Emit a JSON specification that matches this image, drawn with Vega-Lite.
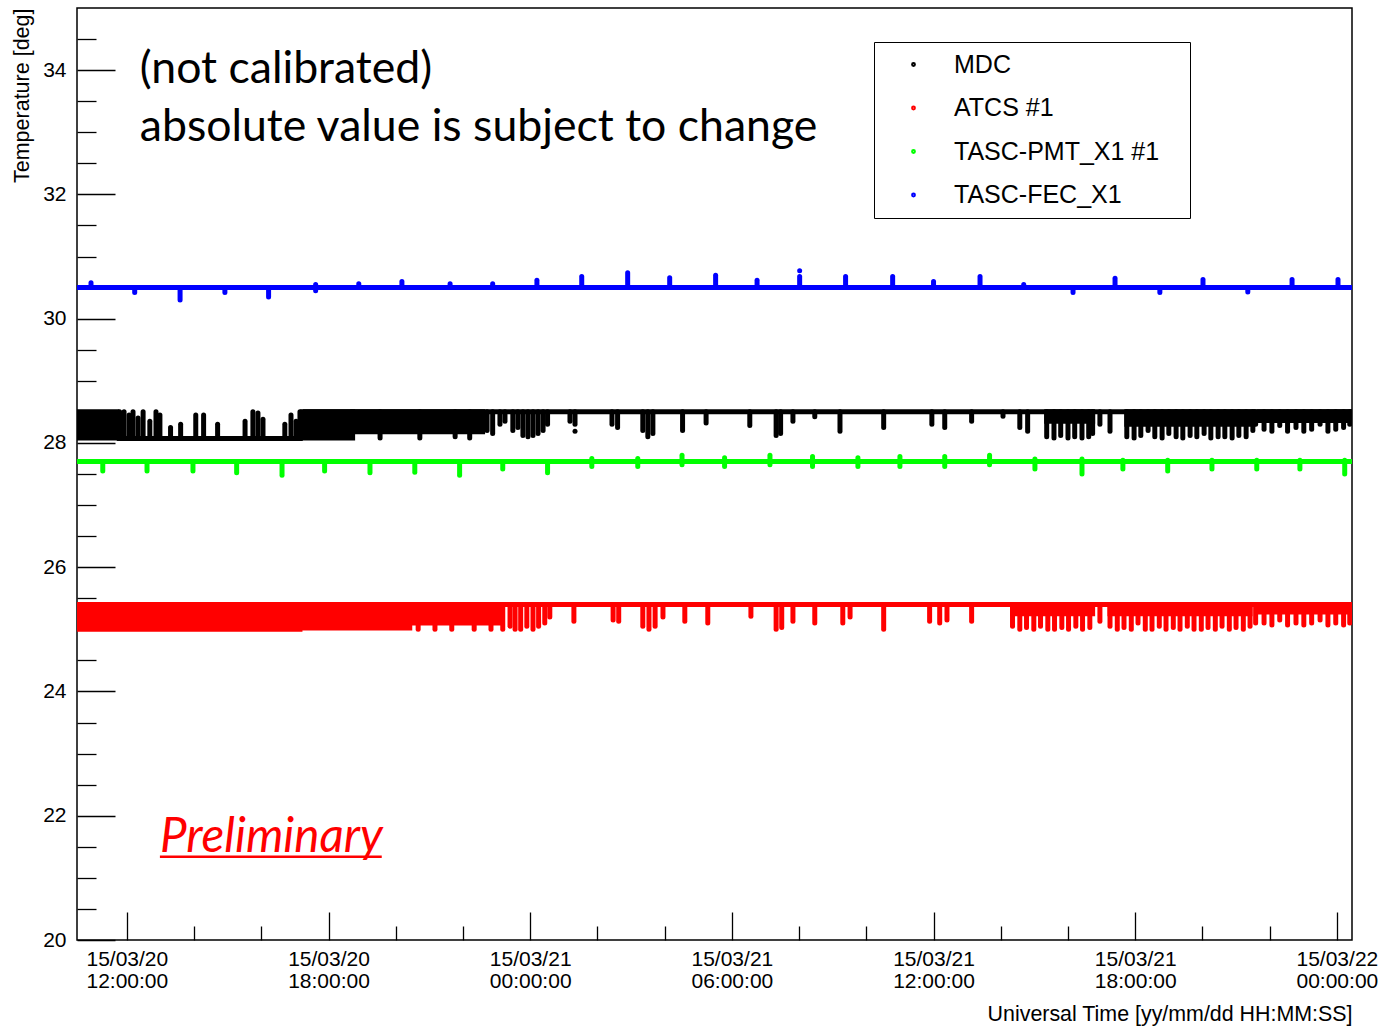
{
  "$schema": "https://vega.github.io/schema/vega-lite/v6.json",
  "width": 1275,
  "height": 932,
  "autosize": {"type": "none"},
  "padding": {"left": 77, "top": 8, "right": 31, "bottom": 87},
  "background": "white",
  "config": {
    "view": {"stroke": "black", "strokeWidth": 1.5},
    "font": "Liberation Sans",
    "axis": {"grid": false, "domain": false, "tickColor": "black", "tickWidth": 1.3, "labelColor": "black", "titleColor": "black", "labelFont": "Liberation Sans", "titleFont": "Liberation Sans", "titleFontWeight": "normal"}
  },
  "datasets": {
    "bands": [
      {"s": "MDC", "t": "2015-03-20T10:31Z", "t2": "2015-03-20T11:42Z", "lo": 28.08, "hi": 28.5},
      {"s": "MDC", "t": "2015-03-20T17:14Z", "t2": "2015-03-20T18:43Z", "lo": 28.08, "hi": 28.5},
      {"s": "MDC", "t": "2015-03-20T18:43Z", "t2": "2015-03-20T22:35Z", "lo": 28.18, "hi": 28.5},
      {"s": "MDC", "t": "2015-03-21T15:22Z", "t2": "2015-03-21T16:44Z", "lo": 28.35, "hi": 28.5},
      {"s": "MDC", "t": "2015-03-21T17:45Z", "t2": "2015-03-21T21:30Z", "lo": 28.3, "hi": 28.5},
      {"s": "MDC", "t": "2015-03-21T21:42Z", "t2": "2015-03-22T00:27Z", "lo": 28.36, "hi": 28.5},
      {"s": "ATCS #1", "t": "2015-03-20T10:31Z", "t2": "2015-03-20T17:09Z", "lo": 25.0, "hi": 25.4},
      {"s": "ATCS #1", "t": "2015-03-20T17:09Z", "t2": "2015-03-20T20:25Z", "lo": 25.02, "hi": 25.4},
      {"s": "ATCS #1", "t": "2015-03-20T20:25Z", "t2": "2015-03-20T23:06Z", "lo": 25.1, "hi": 25.4},
      {"s": "ATCS #1", "t": "2015-03-21T14:21Z", "t2": "2015-03-21T16:44Z", "lo": 25.25, "hi": 25.4},
      {"s": "ATCS #1", "t": "2015-03-21T17:15Z", "t2": "2015-03-21T21:25Z", "lo": 25.25, "hi": 25.4},
      {"s": "ATCS #1", "t": "2015-03-21T21:42Z", "t2": "2015-03-22T00:27Z", "lo": 25.28, "hi": 25.4}
    ],
    "levels": [
      {"s": "MDC", "t": "2015-03-20T11:42Z", "t2": "2015-03-20T17:14Z", "v": 28.07},
      {"s": "MDC", "t": "2015-03-20T17:14Z", "t2": "2015-03-22T00:27Z", "v": 28.5},
      {"s": "ATCS #1", "t": "2015-03-20T10:31Z", "t2": "2015-03-22T00:27Z", "v": 25.4},
      {"s": "TASC-PMT_X1 #1", "t": "2015-03-20T10:31Z", "t2": "2015-03-22T00:27Z", "v": 27.7},
      {"s": "TASC-FEC_X1", "t": "2015-03-20T10:31Z", "t2": "2015-03-22T00:27Z", "v": 30.5}
    ],
    "spikes": [
      {"s": "MDC", "t": "2015-03-20T11:47Z", "lo": 28.07, "hi": 28.5},
      {"s": "MDC", "t": "2015-03-20T11:55Z", "lo": 28.07, "hi": 28.5},
      {"s": "MDC", "t": "2015-03-20T12:04Z", "lo": 28.07, "hi": 28.45},
      {"s": "MDC", "t": "2015-03-20T12:11Z", "lo": 28.07, "hi": 28.5},
      {"s": "MDC", "t": "2015-03-20T12:20Z", "lo": 28.07, "hi": 28.4},
      {"s": "MDC", "t": "2015-03-20T12:29Z", "lo": 28.07, "hi": 28.5},
      {"s": "MDC", "t": "2015-03-20T12:41Z", "lo": 28.07, "hi": 28.35},
      {"s": "MDC", "t": "2015-03-20T12:52Z", "lo": 28.07, "hi": 28.5},
      {"s": "MDC", "t": "2015-03-20T12:59Z", "lo": 28.07, "hi": 28.45},
      {"s": "MDC", "t": "2015-03-20T13:18Z", "lo": 28.07, "hi": 28.25},
      {"s": "MDC", "t": "2015-03-20T13:36Z", "lo": 28.07, "hi": 28.3},
      {"s": "MDC", "t": "2015-03-20T14:03Z", "lo": 28.07, "hi": 28.45},
      {"s": "MDC", "t": "2015-03-20T14:17Z", "lo": 28.07, "hi": 28.45},
      {"s": "MDC", "t": "2015-03-20T14:42Z", "lo": 28.07, "hi": 28.3},
      {"s": "MDC", "t": "2015-03-20T15:31Z", "lo": 28.07, "hi": 28.35},
      {"s": "MDC", "t": "2015-03-20T15:45Z", "lo": 28.07, "hi": 28.5},
      {"s": "MDC", "t": "2015-03-20T15:54Z", "lo": 28.07, "hi": 28.48},
      {"s": "MDC", "t": "2015-03-20T16:03Z", "lo": 28.07, "hi": 28.38},
      {"s": "MDC", "t": "2015-03-20T16:42Z", "lo": 28.07, "hi": 28.3},
      {"s": "MDC", "t": "2015-03-20T16:53Z", "lo": 28.07, "hi": 28.45},
      {"s": "MDC", "t": "2015-03-20T17:02Z", "lo": 28.07, "hi": 28.35},
      {"s": "MDC", "t": "2015-03-20T17:09Z", "lo": 28.07, "hi": 28.5},
      {"s": "MDC", "t": "2015-03-20T19:32Z", "lo": 28.08, "hi": 28.5},
      {"s": "MDC", "t": "2015-03-20T20:43Z", "lo": 28.08, "hi": 28.5},
      {"s": "MDC", "t": "2015-03-20T21:46Z", "lo": 28.1, "hi": 28.5},
      {"s": "MDC", "t": "2015-03-20T22:12Z", "lo": 28.08, "hi": 28.5},
      {"s": "MDC", "t": "2015-03-20T22:43Z", "lo": 28.2, "hi": 28.5},
      {"s": "MDC", "t": "2015-03-20T22:53Z", "lo": 28.15, "hi": 28.5},
      {"s": "MDC", "t": "2015-03-20T23:06Z", "lo": 28.3, "hi": 28.5},
      {"s": "MDC", "t": "2015-03-20T23:15Z", "lo": 28.35, "hi": 28.5},
      {"s": "MDC", "t": "2015-03-20T23:29Z", "lo": 28.2, "hi": 28.5},
      {"s": "MDC", "t": "2015-03-20T23:38Z", "lo": 28.25, "hi": 28.5},
      {"s": "MDC", "t": "2015-03-20T23:47Z", "lo": 28.12, "hi": 28.5},
      {"s": "MDC", "t": "2015-03-20T23:56Z", "lo": 28.1, "hi": 28.5},
      {"s": "MDC", "t": "2015-03-21T00:05Z", "lo": 28.12, "hi": 28.5},
      {"s": "MDC", "t": "2015-03-21T00:14Z", "lo": 28.15, "hi": 28.5},
      {"s": "MDC", "t": "2015-03-21T00:23Z", "lo": 28.2, "hi": 28.5},
      {"s": "MDC", "t": "2015-03-21T00:31Z", "lo": 28.3, "hi": 28.5},
      {"s": "MDC", "t": "2015-03-21T01:11Z", "lo": 28.35, "hi": 28.5},
      {"s": "MDC", "t": "2015-03-21T01:20Z", "lo": 28.3, "hi": 28.5},
      {"s": "MDC", "t": "2015-03-21T01:20Z", "lo": 28.19, "hi": 28.19},
      {"s": "MDC", "t": "2015-03-21T02:26Z", "lo": 28.3, "hi": 28.5},
      {"s": "MDC", "t": "2015-03-21T02:36Z", "lo": 28.25, "hi": 28.5},
      {"s": "MDC", "t": "2015-03-21T03:21Z", "lo": 28.2, "hi": 28.5},
      {"s": "MDC", "t": "2015-03-21T03:30Z", "lo": 28.1, "hi": 28.5},
      {"s": "MDC", "t": "2015-03-21T03:39Z", "lo": 28.15, "hi": 28.5},
      {"s": "MDC", "t": "2015-03-21T04:32Z", "lo": 28.2, "hi": 28.5},
      {"s": "MDC", "t": "2015-03-21T05:14Z", "lo": 28.32, "hi": 28.5},
      {"s": "MDC", "t": "2015-03-21T06:32Z", "lo": 28.28, "hi": 28.5},
      {"s": "MDC", "t": "2015-03-21T07:19Z", "lo": 28.12, "hi": 28.5},
      {"s": "MDC", "t": "2015-03-21T07:27Z", "lo": 28.15, "hi": 28.5},
      {"s": "MDC", "t": "2015-03-21T07:49Z", "lo": 28.35, "hi": 28.5},
      {"s": "MDC", "t": "2015-03-21T08:28Z", "lo": 28.42, "hi": 28.5},
      {"s": "MDC", "t": "2015-03-21T09:13Z", "lo": 28.19, "hi": 28.5},
      {"s": "MDC", "t": "2015-03-21T10:31Z", "lo": 28.25, "hi": 28.5},
      {"s": "MDC", "t": "2015-03-21T11:57Z", "lo": 28.3, "hi": 28.5},
      {"s": "MDC", "t": "2015-03-21T12:20Z", "lo": 28.25, "hi": 28.5},
      {"s": "MDC", "t": "2015-03-21T13:08Z", "lo": 28.35, "hi": 28.5},
      {"s": "MDC", "t": "2015-03-21T14:04Z", "lo": 28.43, "hi": 28.5},
      {"s": "MDC", "t": "2015-03-21T14:34Z", "lo": 28.25, "hi": 28.5},
      {"s": "MDC", "t": "2015-03-21T14:48Z", "lo": 28.19, "hi": 28.5},
      {"s": "MDC", "t": "2015-03-21T15:22Z", "lo": 28.1, "hi": 28.5},
      {"s": "MDC", "t": "2015-03-21T15:35Z", "lo": 28.08, "hi": 28.5},
      {"s": "MDC", "t": "2015-03-21T15:47Z", "lo": 28.12, "hi": 28.5},
      {"s": "MDC", "t": "2015-03-21T16:00Z", "lo": 28.08, "hi": 28.5},
      {"s": "MDC", "t": "2015-03-21T16:12Z", "lo": 28.1, "hi": 28.5},
      {"s": "MDC", "t": "2015-03-21T16:25Z", "lo": 28.08, "hi": 28.5},
      {"s": "MDC", "t": "2015-03-21T16:37Z", "lo": 28.1, "hi": 28.5},
      {"s": "MDC", "t": "2015-03-21T16:44Z", "lo": 28.15, "hi": 28.5},
      {"s": "MDC", "t": "2015-03-21T16:57Z", "lo": 28.3, "hi": 28.5},
      {"s": "MDC", "t": "2015-03-21T17:15Z", "lo": 28.19, "hi": 28.5},
      {"s": "MDC", "t": "2015-03-21T17:45Z", "lo": 28.1, "hi": 28.5},
      {"s": "MDC", "t": "2015-03-21T17:58Z", "lo": 28.08, "hi": 28.5},
      {"s": "MDC", "t": "2015-03-21T18:10Z", "lo": 28.12, "hi": 28.5},
      {"s": "MDC", "t": "2015-03-21T18:23Z", "lo": 28.2, "hi": 28.5},
      {"s": "MDC", "t": "2015-03-21T18:35Z", "lo": 28.1, "hi": 28.5},
      {"s": "MDC", "t": "2015-03-21T18:48Z", "lo": 28.08, "hi": 28.5},
      {"s": "MDC", "t": "2015-03-21T19:00Z", "lo": 28.15, "hi": 28.5},
      {"s": "MDC", "t": "2015-03-21T19:13Z", "lo": 28.1, "hi": 28.5},
      {"s": "MDC", "t": "2015-03-21T19:25Z", "lo": 28.08, "hi": 28.5},
      {"s": "MDC", "t": "2015-03-21T19:38Z", "lo": 28.12, "hi": 28.5},
      {"s": "MDC", "t": "2015-03-21T19:50Z", "lo": 28.1, "hi": 28.5},
      {"s": "MDC", "t": "2015-03-21T20:03Z", "lo": 28.15, "hi": 28.5},
      {"s": "MDC", "t": "2015-03-21T20:15Z", "lo": 28.08, "hi": 28.5},
      {"s": "MDC", "t": "2015-03-21T20:28Z", "lo": 28.1, "hi": 28.5},
      {"s": "MDC", "t": "2015-03-21T20:40Z", "lo": 28.1, "hi": 28.5},
      {"s": "MDC", "t": "2015-03-21T20:53Z", "lo": 28.08, "hi": 28.5},
      {"s": "MDC", "t": "2015-03-21T21:05Z", "lo": 28.12, "hi": 28.5},
      {"s": "MDC", "t": "2015-03-21T21:18Z", "lo": 28.1, "hi": 28.5},
      {"s": "MDC", "t": "2015-03-21T21:30Z", "lo": 28.2, "hi": 28.5},
      {"s": "MDC", "t": "2015-03-21T21:35Z", "lo": 28.3, "hi": 28.5},
      {"s": "MDC", "t": "2015-03-21T21:50Z", "lo": 28.22, "hi": 28.5},
      {"s": "MDC", "t": "2015-03-21T22:04Z", "lo": 28.19, "hi": 28.5},
      {"s": "MDC", "t": "2015-03-21T22:18Z", "lo": 28.28, "hi": 28.5},
      {"s": "MDC", "t": "2015-03-21T22:32Z", "lo": 28.19, "hi": 28.5},
      {"s": "MDC", "t": "2015-03-21T22:47Z", "lo": 28.25, "hi": 28.5},
      {"s": "MDC", "t": "2015-03-21T23:01Z", "lo": 28.19, "hi": 28.5},
      {"s": "MDC", "t": "2015-03-21T23:15Z", "lo": 28.22, "hi": 28.5},
      {"s": "MDC", "t": "2015-03-21T23:30Z", "lo": 28.3, "hi": 28.5},
      {"s": "MDC", "t": "2015-03-21T23:44Z", "lo": 28.19, "hi": 28.5},
      {"s": "MDC", "t": "2015-03-21T23:58Z", "lo": 28.22, "hi": 28.5},
      {"s": "MDC", "t": "2015-03-22T00:12Z", "lo": 28.25, "hi": 28.5},
      {"s": "MDC", "t": "2015-03-22T00:23Z", "lo": 28.3, "hi": 28.5},
      {"s": "ATCS #1", "t": "2015-03-20T20:40Z", "lo": 25.0, "hi": 25.4},
      {"s": "ATCS #1", "t": "2015-03-20T21:10Z", "lo": 25.0, "hi": 25.4},
      {"s": "ATCS #1", "t": "2015-03-20T21:40Z", "lo": 25.0, "hi": 25.4},
      {"s": "ATCS #1", "t": "2015-03-20T22:20Z", "lo": 25.0, "hi": 25.4},
      {"s": "ATCS #1", "t": "2015-03-20T22:50Z", "lo": 25.0, "hi": 25.4},
      {"s": "ATCS #1", "t": "2015-03-20T23:11Z", "lo": 25.0, "hi": 25.4},
      {"s": "ATCS #1", "t": "2015-03-20T23:24Z", "lo": 25.05, "hi": 25.4},
      {"s": "ATCS #1", "t": "2015-03-20T23:33Z", "lo": 25.0, "hi": 25.4},
      {"s": "ATCS #1", "t": "2015-03-20T23:43Z", "lo": 25.0, "hi": 25.4},
      {"s": "ATCS #1", "t": "2015-03-20T23:54Z", "lo": 25.05, "hi": 25.4},
      {"s": "ATCS #1", "t": "2015-03-21T00:05Z", "lo": 25.0, "hi": 25.4},
      {"s": "ATCS #1", "t": "2015-03-21T00:15Z", "lo": 25.05, "hi": 25.4},
      {"s": "ATCS #1", "t": "2015-03-21T00:26Z", "lo": 25.1, "hi": 25.4},
      {"s": "ATCS #1", "t": "2015-03-21T00:35Z", "lo": 25.2, "hi": 25.4},
      {"s": "ATCS #1", "t": "2015-03-21T01:18Z", "lo": 25.13, "hi": 25.4},
      {"s": "ATCS #1", "t": "2015-03-21T02:28Z", "lo": 25.15, "hi": 25.4},
      {"s": "ATCS #1", "t": "2015-03-21T02:38Z", "lo": 25.13, "hi": 25.4},
      {"s": "ATCS #1", "t": "2015-03-21T03:21Z", "lo": 25.05, "hi": 25.4},
      {"s": "ATCS #1", "t": "2015-03-21T03:32Z", "lo": 25.0, "hi": 25.4},
      {"s": "ATCS #1", "t": "2015-03-21T03:43Z", "lo": 25.05, "hi": 25.4},
      {"s": "ATCS #1", "t": "2015-03-21T03:57Z", "lo": 25.2, "hi": 25.4},
      {"s": "ATCS #1", "t": "2015-03-21T04:36Z", "lo": 25.13, "hi": 25.4},
      {"s": "ATCS #1", "t": "2015-03-21T05:17Z", "lo": 25.1, "hi": 25.4},
      {"s": "ATCS #1", "t": "2015-03-21T06:34Z", "lo": 25.21, "hi": 25.4},
      {"s": "ATCS #1", "t": "2015-03-21T07:19Z", "lo": 25.0, "hi": 25.4},
      {"s": "ATCS #1", "t": "2015-03-21T07:29Z", "lo": 25.03, "hi": 25.4},
      {"s": "ATCS #1", "t": "2015-03-21T07:49Z", "lo": 25.13, "hi": 25.4},
      {"s": "ATCS #1", "t": "2015-03-21T08:28Z", "lo": 25.1, "hi": 25.4},
      {"s": "ATCS #1", "t": "2015-03-21T09:18Z", "lo": 25.1, "hi": 25.4},
      {"s": "ATCS #1", "t": "2015-03-21T09:31Z", "lo": 25.2, "hi": 25.4},
      {"s": "ATCS #1", "t": "2015-03-21T10:31Z", "lo": 25.0, "hi": 25.4},
      {"s": "ATCS #1", "t": "2015-03-21T11:53Z", "lo": 25.13, "hi": 25.4},
      {"s": "ATCS #1", "t": "2015-03-21T12:11Z", "lo": 25.1, "hi": 25.4},
      {"s": "ATCS #1", "t": "2015-03-21T12:24Z", "lo": 25.15, "hi": 25.4},
      {"s": "ATCS #1", "t": "2015-03-21T13:08Z", "lo": 25.13, "hi": 25.4},
      {"s": "ATCS #1", "t": "2015-03-21T14:21Z", "lo": 25.05, "hi": 25.4},
      {"s": "ATCS #1", "t": "2015-03-21T14:34Z", "lo": 25.0, "hi": 25.4},
      {"s": "ATCS #1", "t": "2015-03-21T14:46Z", "lo": 25.03, "hi": 25.4},
      {"s": "ATCS #1", "t": "2015-03-21T14:59Z", "lo": 25.0, "hi": 25.4},
      {"s": "ATCS #1", "t": "2015-03-21T15:11Z", "lo": 25.05, "hi": 25.4},
      {"s": "ATCS #1", "t": "2015-03-21T15:24Z", "lo": 25.0, "hi": 25.4},
      {"s": "ATCS #1", "t": "2015-03-21T15:36Z", "lo": 25.0, "hi": 25.4},
      {"s": "ATCS #1", "t": "2015-03-21T15:49Z", "lo": 25.03, "hi": 25.4},
      {"s": "ATCS #1", "t": "2015-03-21T16:01Z", "lo": 25.0, "hi": 25.4},
      {"s": "ATCS #1", "t": "2015-03-21T16:14Z", "lo": 25.05, "hi": 25.4},
      {"s": "ATCS #1", "t": "2015-03-21T16:26Z", "lo": 25.0, "hi": 25.4},
      {"s": "ATCS #1", "t": "2015-03-21T16:39Z", "lo": 25.03, "hi": 25.4},
      {"s": "ATCS #1", "t": "2015-03-21T16:57Z", "lo": 25.13, "hi": 25.4},
      {"s": "ATCS #1", "t": "2015-03-21T17:15Z", "lo": 25.05, "hi": 25.4},
      {"s": "ATCS #1", "t": "2015-03-21T17:28Z", "lo": 25.0, "hi": 25.4},
      {"s": "ATCS #1", "t": "2015-03-21T17:40Z", "lo": 25.03, "hi": 25.4},
      {"s": "ATCS #1", "t": "2015-03-21T17:53Z", "lo": 25.0, "hi": 25.4},
      {"s": "ATCS #1", "t": "2015-03-21T18:05Z", "lo": 25.1, "hi": 25.4},
      {"s": "ATCS #1", "t": "2015-03-21T18:18Z", "lo": 25.0, "hi": 25.4},
      {"s": "ATCS #1", "t": "2015-03-21T18:30Z", "lo": 25.0, "hi": 25.4},
      {"s": "ATCS #1", "t": "2015-03-21T18:43Z", "lo": 25.05, "hi": 25.4},
      {"s": "ATCS #1", "t": "2015-03-21T18:55Z", "lo": 25.0, "hi": 25.4},
      {"s": "ATCS #1", "t": "2015-03-21T19:08Z", "lo": 25.03, "hi": 25.4},
      {"s": "ATCS #1", "t": "2015-03-21T19:20Z", "lo": 25.0, "hi": 25.4},
      {"s": "ATCS #1", "t": "2015-03-21T19:33Z", "lo": 25.05, "hi": 25.4},
      {"s": "ATCS #1", "t": "2015-03-21T19:45Z", "lo": 25.0, "hi": 25.4},
      {"s": "ATCS #1", "t": "2015-03-21T19:58Z", "lo": 25.0, "hi": 25.4},
      {"s": "ATCS #1", "t": "2015-03-21T20:10Z", "lo": 25.03, "hi": 25.4},
      {"s": "ATCS #1", "t": "2015-03-21T20:23Z", "lo": 25.0, "hi": 25.4},
      {"s": "ATCS #1", "t": "2015-03-21T20:35Z", "lo": 25.05, "hi": 25.4},
      {"s": "ATCS #1", "t": "2015-03-21T20:48Z", "lo": 25.0, "hi": 25.4},
      {"s": "ATCS #1", "t": "2015-03-21T21:00Z", "lo": 25.03, "hi": 25.4},
      {"s": "ATCS #1", "t": "2015-03-21T21:13Z", "lo": 25.0, "hi": 25.4},
      {"s": "ATCS #1", "t": "2015-03-21T21:25Z", "lo": 25.05, "hi": 25.4},
      {"s": "ATCS #1", "t": "2015-03-21T21:35Z", "lo": 25.1, "hi": 25.4},
      {"s": "ATCS #1", "t": "2015-03-21T21:50Z", "lo": 25.1, "hi": 25.4},
      {"s": "ATCS #1", "t": "2015-03-21T22:04Z", "lo": 25.07, "hi": 25.4},
      {"s": "ATCS #1", "t": "2015-03-21T22:18Z", "lo": 25.15, "hi": 25.4},
      {"s": "ATCS #1", "t": "2015-03-21T22:32Z", "lo": 25.07, "hi": 25.4},
      {"s": "ATCS #1", "t": "2015-03-21T22:47Z", "lo": 25.1, "hi": 25.4},
      {"s": "ATCS #1", "t": "2015-03-21T23:01Z", "lo": 25.07, "hi": 25.4},
      {"s": "ATCS #1", "t": "2015-03-21T23:15Z", "lo": 25.1, "hi": 25.4},
      {"s": "ATCS #1", "t": "2015-03-21T23:30Z", "lo": 25.15, "hi": 25.4},
      {"s": "ATCS #1", "t": "2015-03-21T23:44Z", "lo": 25.07, "hi": 25.4},
      {"s": "ATCS #1", "t": "2015-03-21T23:58Z", "lo": 25.1, "hi": 25.4},
      {"s": "ATCS #1", "t": "2015-03-22T00:12Z", "lo": 25.07, "hi": 25.4},
      {"s": "ATCS #1", "t": "2015-03-22T00:23Z", "lo": 25.1, "hi": 25.4},
      {"s": "TASC-PMT_X1 #1", "t": "2015-03-20T11:17Z", "lo": 27.55, "hi": 27.7},
      {"s": "TASC-PMT_X1 #1", "t": "2015-03-20T12:36Z", "lo": 27.55, "hi": 27.7},
      {"s": "TASC-PMT_X1 #1", "t": "2015-03-20T13:58Z", "lo": 27.55, "hi": 27.7},
      {"s": "TASC-PMT_X1 #1", "t": "2015-03-20T15:16Z", "lo": 27.52, "hi": 27.7},
      {"s": "TASC-PMT_X1 #1", "t": "2015-03-20T16:37Z", "lo": 27.48, "hi": 27.7},
      {"s": "TASC-PMT_X1 #1", "t": "2015-03-20T17:53Z", "lo": 27.55, "hi": 27.7},
      {"s": "TASC-PMT_X1 #1", "t": "2015-03-20T19:14Z", "lo": 27.52, "hi": 27.7},
      {"s": "TASC-PMT_X1 #1", "t": "2015-03-20T20:34Z", "lo": 27.53, "hi": 27.7},
      {"s": "TASC-PMT_X1 #1", "t": "2015-03-20T21:54Z", "lo": 27.48, "hi": 27.7},
      {"s": "TASC-PMT_X1 #1", "t": "2015-03-20T23:11Z", "lo": 27.58, "hi": 27.7},
      {"s": "TASC-PMT_X1 #1", "t": "2015-03-21T00:31Z", "lo": 27.52, "hi": 27.7},
      {"s": "TASC-PMT_X1 #1", "t": "2015-03-21T01:50Z", "lo": 27.62, "hi": 27.75},
      {"s": "TASC-PMT_X1 #1", "t": "2015-03-21T03:12Z", "lo": 27.62, "hi": 27.75},
      {"s": "TASC-PMT_X1 #1", "t": "2015-03-21T04:31Z", "lo": 27.65, "hi": 27.8},
      {"s": "TASC-PMT_X1 #1", "t": "2015-03-21T05:47Z", "lo": 27.62, "hi": 27.76},
      {"s": "TASC-PMT_X1 #1", "t": "2015-03-21T07:08Z", "lo": 27.65, "hi": 27.8},
      {"s": "TASC-PMT_X1 #1", "t": "2015-03-21T08:24Z", "lo": 27.62, "hi": 27.78},
      {"s": "TASC-PMT_X1 #1", "t": "2015-03-21T09:45Z", "lo": 27.62, "hi": 27.76},
      {"s": "TASC-PMT_X1 #1", "t": "2015-03-21T11:00Z", "lo": 27.62, "hi": 27.78},
      {"s": "TASC-PMT_X1 #1", "t": "2015-03-21T12:20Z", "lo": 27.62, "hi": 27.78},
      {"s": "TASC-PMT_X1 #1", "t": "2015-03-21T13:40Z", "lo": 27.65, "hi": 27.8},
      {"s": "TASC-PMT_X1 #1", "t": "2015-03-21T15:01Z", "lo": 27.58, "hi": 27.74},
      {"s": "TASC-PMT_X1 #1", "t": "2015-03-21T16:25Z", "lo": 27.5, "hi": 27.74},
      {"s": "TASC-PMT_X1 #1", "t": "2015-03-21T17:38Z", "lo": 27.58, "hi": 27.72},
      {"s": "TASC-PMT_X1 #1", "t": "2015-03-21T18:58Z", "lo": 27.55, "hi": 27.72},
      {"s": "TASC-PMT_X1 #1", "t": "2015-03-21T20:17Z", "lo": 27.58, "hi": 27.72},
      {"s": "TASC-PMT_X1 #1", "t": "2015-03-21T21:37Z", "lo": 27.58, "hi": 27.72},
      {"s": "TASC-PMT_X1 #1", "t": "2015-03-21T22:54Z", "lo": 27.58, "hi": 27.72},
      {"s": "TASC-PMT_X1 #1", "t": "2015-03-22T00:14Z", "lo": 27.5, "hi": 27.72},
      {"s": "TASC-FEC_X1", "t": "2015-03-20T10:56Z", "lo": 30.5, "hi": 30.58},
      {"s": "TASC-FEC_X1", "t": "2015-03-20T12:14Z", "lo": 30.42, "hi": 30.5},
      {"s": "TASC-FEC_X1", "t": "2015-03-20T13:35Z", "lo": 30.3, "hi": 30.5},
      {"s": "TASC-FEC_X1", "t": "2015-03-20T14:55Z", "lo": 30.42, "hi": 30.5},
      {"s": "TASC-FEC_X1", "t": "2015-03-20T16:13Z", "lo": 30.35, "hi": 30.5},
      {"s": "TASC-FEC_X1", "t": "2015-03-20T17:37Z", "lo": 30.45, "hi": 30.55},
      {"s": "TASC-FEC_X1", "t": "2015-03-20T18:54Z", "lo": 30.5, "hi": 30.56},
      {"s": "TASC-FEC_X1", "t": "2015-03-20T20:11Z", "lo": 30.5, "hi": 30.6},
      {"s": "TASC-FEC_X1", "t": "2015-03-20T21:37Z", "lo": 30.5, "hi": 30.56},
      {"s": "TASC-FEC_X1", "t": "2015-03-20T22:53Z", "lo": 30.5, "hi": 30.56},
      {"s": "TASC-FEC_X1", "t": "2015-03-21T00:12Z", "lo": 30.5, "hi": 30.62},
      {"s": "TASC-FEC_X1", "t": "2015-03-21T01:32Z", "lo": 30.5, "hi": 30.68},
      {"s": "TASC-FEC_X1", "t": "2015-03-21T02:54Z", "lo": 30.5, "hi": 30.74},
      {"s": "TASC-FEC_X1", "t": "2015-03-21T04:09Z", "lo": 30.5, "hi": 30.66},
      {"s": "TASC-FEC_X1", "t": "2015-03-21T05:31Z", "lo": 30.5, "hi": 30.7},
      {"s": "TASC-FEC_X1", "t": "2015-03-21T06:45Z", "lo": 30.5, "hi": 30.62},
      {"s": "TASC-FEC_X1", "t": "2015-03-21T08:01Z", "lo": 30.5, "hi": 30.68},
      {"s": "TASC-FEC_X1", "t": "2015-03-21T08:01Z", "lo": 30.77, "hi": 30.77},
      {"s": "TASC-FEC_X1", "t": "2015-03-21T09:23Z", "lo": 30.5, "hi": 30.68},
      {"s": "TASC-FEC_X1", "t": "2015-03-21T10:47Z", "lo": 30.5, "hi": 30.68},
      {"s": "TASC-FEC_X1", "t": "2015-03-21T12:00Z", "lo": 30.5, "hi": 30.6},
      {"s": "TASC-FEC_X1", "t": "2015-03-21T13:23Z", "lo": 30.5, "hi": 30.68},
      {"s": "TASC-FEC_X1", "t": "2015-03-21T14:41Z", "lo": 30.5, "hi": 30.55},
      {"s": "TASC-FEC_X1", "t": "2015-03-21T16:09Z", "lo": 30.42, "hi": 30.5},
      {"s": "TASC-FEC_X1", "t": "2015-03-21T17:24Z", "lo": 30.5, "hi": 30.65},
      {"s": "TASC-FEC_X1", "t": "2015-03-21T18:44Z", "lo": 30.42, "hi": 30.5},
      {"s": "TASC-FEC_X1", "t": "2015-03-21T20:01Z", "lo": 30.5, "hi": 30.63},
      {"s": "TASC-FEC_X1", "t": "2015-03-21T21:21Z", "lo": 30.43, "hi": 30.5},
      {"s": "TASC-FEC_X1", "t": "2015-03-21T22:40Z", "lo": 30.5, "hi": 30.63},
      {"s": "TASC-FEC_X1", "t": "2015-03-22T00:02Z", "lo": 30.5, "hi": 30.63}
    ],
    "notes": [
      {"t": "2015-03-20T12:23Z", "v": 33.79, "text": "(not calibrated)"},
      {"t": "2015-03-20T12:23Z", "v": 32.86, "text": "absolute value is subject to change"}
    ],
    "stamp": [
      {"t": "2015-03-20T12:59Z", "v": 21.42, "text": "Preliminary"}
    ],
    "underline": [
      {"t": "2015-03-20T12:59Z", "t2": "2015-03-20T19:35Z", "v": 21.34}
    ]
  },
  "resolve": {
    "axis": {"x": "independent", "y": "independent"},
    "legend": {"color": "independent", "stroke": "independent"}
  },
  "layer": [
    {
      "data": {"name": "bands"},
      "mark": {"type": "rect", "strokeWidth": 5, "clip": true},
      "encoding": {
        "x": {"field": "t", "type": "temporal", "scale": {"type": "utc", "domain": [1426847460000, 1426984020000]},
          "axis": {"orient": "bottom", "values": [1426860000000, 1426867200000, 1426881600000, 1426888800000, 1426903200000, 1426910400000, 1426924800000, 1426932000000, 1426946400000, 1426953600000, 1426968000000, 1426975200000], "labels": false, "tickSize": -14, "title": null}},
        "x2": {"field": "t2"},
        "y": {"field": "lo", "type": "quantitative", "scale": {"domain": [20, 35], "nice": false, "zero": false},
          "axis": {"orient": "left", "values": [20.5, 21, 21.5, 22.5, 23, 23.5, 24.5, 25, 25.5, 26.5, 27, 27.5, 28.5, 29, 29.5, 30.5, 31, 31.5, 32.5, 33, 33.5, 34.5], "labels": false, "tickSize": -19, "title": null}},
        "y2": {"field": "hi"},
        "color": {"field": "s", "type": "nominal", "scale": {"domain": ["MDC", "ATCS #1", "TASC-PMT_X1 #1", "TASC-FEC_X1"], "range": ["#000000", "#ff0000", "#00ff00", "#0000ff"]}, "legend": null},
        "stroke": {"field": "s", "type": "nominal", "scale": {"domain": ["MDC", "ATCS #1", "TASC-PMT_X1 #1", "TASC-FEC_X1"], "range": ["#000000", "#ff0000", "#00ff00", "#0000ff"]}, "legend": null}
      }
    },
    {
      "data": {"name": "levels"},
      "mark": {"type": "rule", "strokeWidth": 5, "clip": true},
      "encoding": {
        "x": {"field": "t", "type": "temporal", "scale": {"type": "utc", "domain": [1426847460000, 1426984020000]},
          "axis": {"orient": "bottom", "values": [1426852800000, 1426874400000, 1426896000000, 1426917600000, 1426939200000, 1426960800000, 1426982400000], "tickSize": -28,
            "labelExpr": "[utcFormat(datum.value, '%y/%m/%d'), utcFormat(datum.value, '%H:%M:%S')]",
            "labelFontSize": 21, "labelLineHeight": 22, "labelBaseline": "top", "labelPadding": 36, "labelAlign": "center", "labelFlush": false, "labelOverlap": false,
            "title": "Universal Time [yy/mm/dd HH:MM:SS]", "titleFontSize": 21.4, "titleX": 1275, "titleY": 74, "titleAlign": "right", "titleAnchor": "end", "titleBaseline": "middle"}},
        "x2": {"field": "t2"},
        "y": {"field": "v", "type": "quantitative", "scale": {"domain": [20, 35], "nice": false, "zero": false},
          "axis": {"orient": "left", "values": [20, 22, 24, 26, 28, 30, 32, 34], "tickSize": -38, "labelFontSize": 21, "labelPadding": 49,
            "title": "Temperature [deg]", "titleFontSize": 21.5, "titleX": -55, "titleY": 0, "titleAngle": -90, "titleAlign": "right", "titleAnchor": "end", "titleBaseline": "middle"}},
        "color": {"field": "s", "type": "nominal", "scale": {"domain": ["MDC", "ATCS #1", "TASC-PMT_X1 #1", "TASC-FEC_X1"], "range": ["#000000", "#ff0000", "#00ff00", "#0000ff"]},
          "legend": {"orient": "none", "legendX": 797, "legendY": 34, "title": null, "strokeColor": "black", "fillColor": "white", "padding": 10,
            "labelFontSize": 25, "labelFont": "Liberation Sans", "labelColor": "black", "labelLimit": 400, "symbolType": "circle", "symbolSize": 8, "symbolStrokeWidth": 2,
            "rowPadding": 17.5, "symbolOffset": 17, "labelOffset": 28, "labelExpr": "datum.label + '\u00a0\u00a0\u00a0\u200b'", "cornerRadius": 0}}
      }
    },
    {
      "data": {"name": "spikes"},
      "mark": {"type": "rule", "strokeWidth": 5, "strokeCap": "round", "clip": true},
      "encoding": {
        "x": {"field": "t", "type": "temporal", "scale": {"type": "utc", "domain": [1426847460000, 1426984020000]}, "axis": null},
        "y": {"field": "lo", "type": "quantitative", "scale": {"domain": [20, 35], "nice": false, "zero": false}, "axis": null},
        "y2": {"field": "hi"},
        "color": {"field": "s", "type": "nominal", "scale": {"domain": ["MDC", "ATCS #1", "TASC-PMT_X1 #1", "TASC-FEC_X1"], "range": ["#000000", "#ff0000", "#00ff00", "#0000ff"]}, "legend": null}
      }
    },
    {
      "data": {"name": "notes"},
      "mark": {"type": "text", "align": "left", "baseline": "alphabetic", "font": "Lato", "fontSize": 44.6, "color": "black"},
      "encoding": {
        "x": {"field": "t", "type": "temporal", "scale": {"type": "utc", "domain": [1426847460000, 1426984020000]}, "axis": null},
        "y": {"field": "v", "type": "quantitative", "scale": {"domain": [20, 35], "nice": false, "zero": false}, "axis": null},
        "text": {"field": "text"}
      }
    },
    {
      "data": {"name": "stamp"},
      "mark": {"type": "text", "align": "left", "baseline": "alphabetic", "font": "Lato", "fontSize": 47.5, "fontStyle": "italic", "color": "#ff0000"},
      "encoding": {
        "x": {"field": "t", "type": "temporal", "scale": {"type": "utc", "domain": [1426847460000, 1426984020000]}, "axis": null},
        "y": {"field": "v", "type": "quantitative", "scale": {"domain": [20, 35], "nice": false, "zero": false}, "axis": null},
        "text": {"field": "text"}
      }
    },
    {
      "data": {"name": "underline"},
      "mark": {"type": "rule", "strokeWidth": 2.5, "color": "#ff0000"},
      "encoding": {
        "x": {"field": "t", "type": "temporal", "scale": {"type": "utc", "domain": [1426847460000, 1426984020000]}, "axis": null},
        "x2": {"field": "t2"},
        "y": {"field": "v", "type": "quantitative", "scale": {"domain": [20, 35], "nice": false, "zero": false}, "axis": null}
      }
    }
  ]
}
